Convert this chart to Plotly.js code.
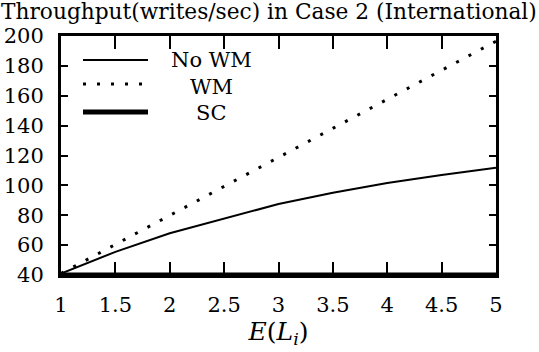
<!DOCTYPE html>
<html>
<head>
<meta charset="utf-8">
<script src="https://cdn.plot.ly/plotly-3.0.1.min.js"></script>
<style>html,body{margin:0;padding:0;background:#fff;}#chart{width:539px;height:352px;}</style>
</head>
<body>
<div id="chart"></div>
<script>
var xValues = [1, 1.5, 2, 2.5, 3, 3.5, 4, 4.5, 5];
var noWM = [41, 55.5, 68, 78, 87.5, 95, 101.6, 107, 111.8];
var wm = [41, 60.5, 80, 99.5, 119, 138, 157.5, 177, 196.5];
var sc = [40, 40, 40, 40, 40, 40, 40, 40, 40];
var seriesNames = ['No WM', 'WM', 'SC'];
var xTicks = [1, 1.5, 2, 2.5, 3, 3.5, 4, 4.5, 5];
var xTickText = ['1', '1.5', '2', '2.5', '3', '3.5', '4', '4.5', '5'];
var yTicks = [40, 60, 80, 100, 120, 140, 160, 180, 200];
var yTickText = ['40', '60', '80', '100', '120', '140', '160', '180', '200'];

var FONT = 'DejaVu Serif, serif';
var FS = 21;
var lineStyles = [
  {color: '#000', width: 2},
  {color: '#000', width: 3, dash: '3px,11px'},
  {color: '#000', width: 5}
];
var seriesY = [noWM, wm, sc];
var traces = seriesY.map(function (ys, i) {
  return {x: xValues, y: ys, name: seriesNames[i], mode: 'lines', line: lineStyles[i], cliponaxis: false, showlegend: false};
});

// legend (key lines + centred labels), placed in paper coordinates
var legendRows = [0.8996, 0.799, 0.682];
var legendTextRows = [0.8975, 0.7866, 0.678];
var shapes = legendRows.map(function (yy, i) {
  return {type: 'line', xref: 'paper', yref: 'paper', x0: 0.0506, x1: 0.2, y0: yy, y1: yy,
          line: {color: '#000', width: lineStyles[i].width, dash: lineStyles[i].dash || 'solid'}};
});
var annotations = legendTextRows.map(function (yy, i) {
  return {xref: 'paper', yref: 'paper', x: 0.345, y: yy, xanchor: 'center', yanchor: 'middle',
          text: seriesNames[i], showarrow: false, font: {family: FONT, size: FS, color: '#000'}};
});

var layout = {
  width: 539, height: 352,
  margin: {l: 61, r: 43, t: 36, b: 77},
  paper_bgcolor: '#fff', plot_bgcolor: '#fff',
  font: {family: FONT, size: FS, color: '#000'},
  showlegend: false,
  shapes: shapes,
  annotations: annotations,
  title: {text: 'Throughput(writes/sec) in Case 2 (International)', x: 0.002, xanchor: 'left', xref: 'container',
          y: 0.988, yanchor: 'top', yref: 'container', font: {family: FONT, size: 21.7, color: '#000'}},
  xaxis: {
    range: [1, 5], tickvals: xTicks, ticktext: xTickText,
    tickfont: {family: FONT, size: FS, color: '#000'},
    ticks: 'inside', ticklen: 13, tickwidth: 2, tickcolor: '#000', ticklabelstandoff: 9,
    showline: true, linewidth: 3, linecolor: '#000', mirror: 'ticks',
    showgrid: false, zeroline: false,
    title: {text: '<i>E</i>(<i>L<sub>i</sub></i>)', font: {family: FONT, size: 25, color: '#000'}, standoff: 7}
  },
  yaxis: {
    range: [40, 200], tickvals: yTicks, ticktext: yTickText,
    tickfont: {family: FONT, size: FS, color: '#000'},
    ticks: 'inside', ticklen: 7, tickwidth: 2, tickcolor: '#000', ticklabelstandoff: 10,
    showline: true, linewidth: 3, linecolor: '#000', mirror: 'ticks',
    showgrid: false, zeroline: false
  }
};
Plotly.newPlot('chart', traces, layout, {displayModeBar: false, staticPlot: true});
</script>
</body>
</html>
